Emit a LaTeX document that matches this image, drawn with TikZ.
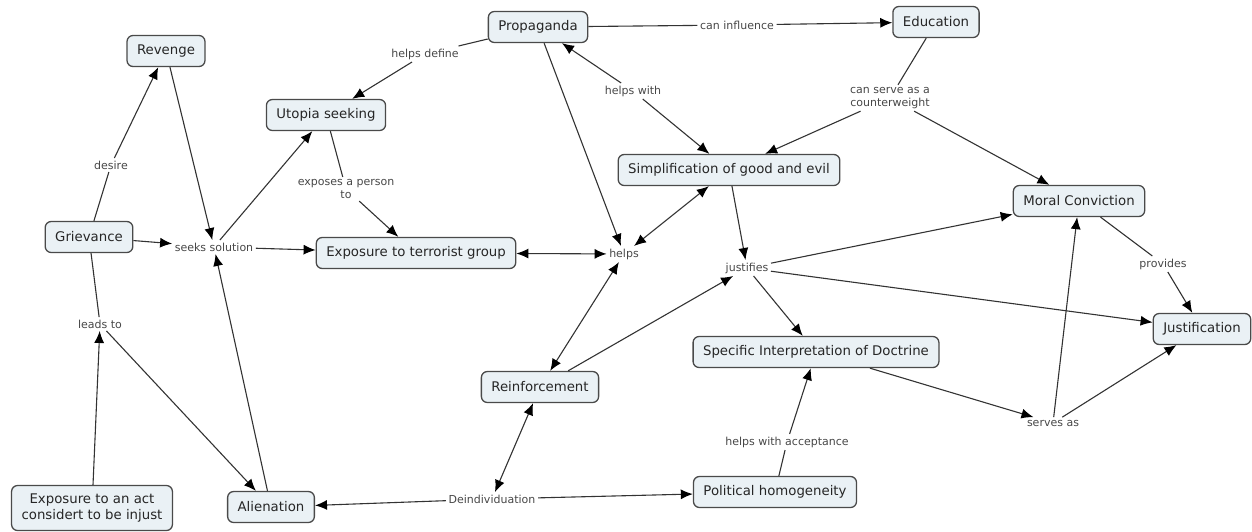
\documentclass[tikz,border=0pt]{standalone}
\usepackage{fontspec}
\setmainfont{DejaVu Sans}
\usetikzlibrary{arrows.meta}
\definecolor{cfill}{HTML}{EAF1F5}
\definecolor{cline}{HTML}{4A4A4A}

\begin{document}
\begin{tikzpicture}[x=1pt,y=-1pt,
  concept/.style={draw=cline,line width=1.3pt,fill=cfill,rounded corners=6pt,
    inner xsep=10pt,minimum height=31pt,align=center,
    font=\fontsize{13.3}{15.5}\selectfont,text=black!85},
  phrase/.style={inner sep=2.5pt,align=center,
    font=\fontsize{11}{12.5}\selectfont,text=black!72},
  link/.style={draw=black!80,line width=1.1pt},
  arr/.style={link,-{Latex[length=12pt,width=10pt,color=black]}},
  both/.style={link,{Latex[length=12pt,width=10pt,color=black]}-{Latex[length=12pt,width=10pt,color=black]}}]
\useasboundingbox (0,0) rectangle (1252,531);
\node[concept] (revenge) at (166,51) {Revenge};
\node[concept] (utopia) at (326,115) {Utopia seeking};
\node[concept] (grievance) at (89,237) {Grievance};
\node[concept] (terror) at (416,253) {Exposure to terrorist group};
\node[concept] (propaganda) at (538,27) {Propaganda};
\node[concept] (education) at (936,22) {Education};
\node[concept] (simple) at (729,170) {Simplification of good and evil};
\node[concept] (moral) at (1079,201) {Moral Conviction};
\node[concept] (justif) at (1202,329) {Justification};
\node[concept] (doctrine) at (816,352) {Specific Interpretation of Doctrine};
\node[concept] (reinf) at (540,387) {Reinforcement};
\node[concept] (polit) at (775,492) {Political homogeneity};
\node[concept] (alien) at (271,507) {Alienation};
\node[concept,minimum height=45pt] (act) at (92,508) {Exposure to an act\\considert to be injust};
\node[phrase] (desire) at (111,165) {desire};
\node[phrase] (seeks) at (214,247) {seeks solution};
\node[phrase] (exposes) at (346,189) {exposes a person\\to};
\node[phrase] (define) at (425,54) {helps define};
\node[phrase] (influence) at (737,25) {can influence};
\node[phrase] (helpswith) at (633,91) {helps with};
\node[phrase] (counter) at (890,98) {can serve as a\\counterweight};
\node[phrase] (helps) at (624,254) {helps};
\node[phrase] (justifies) at (747,268) {justifies};
\node[phrase] (provides) at (1163,264) {provides};
\node[phrase] (serves) at (1053,423) {serves as};
\node[phrase] (accept) at (787,442) {helps with acceptance};
\node[phrase] (deind) at (492,499) {Deindividuation};
\node[phrase] (leads) at (100,324) {leads to};
\draw[link] (grievance) -- (desire);
\draw[arr] (desire) -- (revenge);
\draw[arr] (revenge) -- (seeks);
\draw[arr] (grievance) -- (seeks);
\draw[arr] (seeks) -- (utopia);
\draw[arr] (seeks) -- (terror);
\draw[arr] (alien) -- (seeks);
\draw[link] (utopia) -- (exposes);
\draw[arr] (exposes) -- (terror);
\draw[link] (propaganda) -- (define);
\draw[arr] (define) -- (utopia);
\draw[link] (propaganda) -- (influence);
\draw[arr] (influence) -- (education);
\draw[arr] (propaganda) -- (helps);
\draw[arr] (helpswith) -- (propaganda);
\draw[arr] (helpswith) -- (simple);
\draw[link] (education) -- (counter);
\draw[arr] (counter) -- (simple);
\draw[arr] (counter) -- (moral);
\draw[both] (terror) -- (helps);
\draw[both] (helps) -- (simple);
\draw[both] (helps) -- (reinf);
\draw[arr] (simple) -- (justifies);
\draw[arr] (reinf) -- (justifies);
\draw[arr] (justifies) -- (moral);
\draw[arr] (justifies) -- (justif);
\draw[arr] (justifies) -- (doctrine);
\draw[link] (moral) -- (provides);
\draw[arr] (provides) -- (justif);
\draw[arr] (doctrine) -- (serves);
\draw[arr] (serves) -- (moral);
\draw[arr] (serves) -- (justif);
\draw[link] (polit) -- (accept);
\draw[arr] (accept) -- (doctrine);
\draw[arr] (deind) -- (polit);
\draw[arr] (deind) -- (alien);
\draw[both] (deind) -- (reinf);
\draw[link] (grievance) -- (leads);
\draw[arr] (act) -- (leads);
\draw[arr] (leads) -- (alien);
\end{tikzpicture}
\end{document}
